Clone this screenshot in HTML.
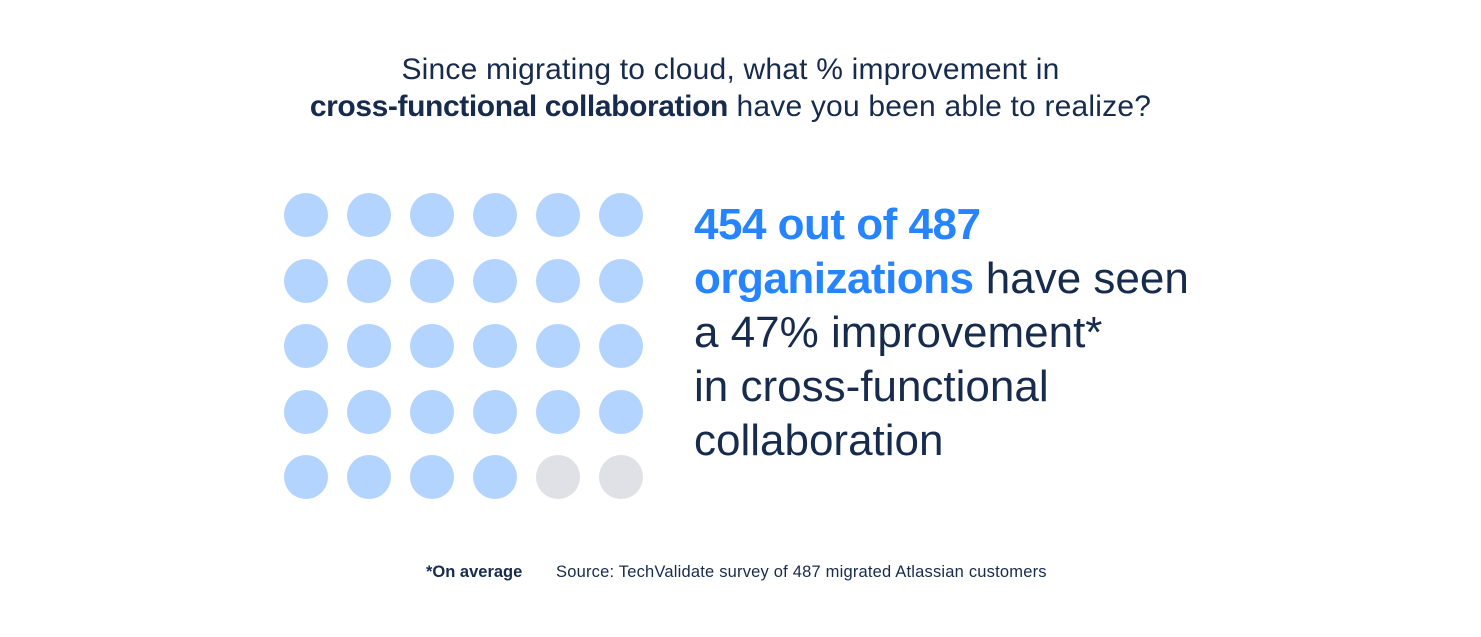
<!DOCTYPE html>
<html><head><meta charset="utf-8"><style>
body{margin:0;width:1481px;height:637px;background:#fff;position:relative;overflow:hidden;font-family:"Liberation Sans",sans-serif;color:#172b4d}
.t{position:absolute;left:0;width:1461px;text-align:center;font-size:30px;line-height:37px;top:51px;letter-spacing:0.2px}
.t b{letter-spacing:-0.4px}
.c{position:absolute;width:44px;height:44px;border-radius:50%;background:#b3d4ff}
.g{background:#dfe1e6}
.big{position:absolute;left:694px;top:198px;font-size:44px;line-height:54px;letter-spacing:0px}
.b{color:#2684ff;font-weight:bold;letter-spacing:-0.5px}
.f{position:absolute;top:563px;font-size:16.5px;letter-spacing:0.2px}
</style></head><body>
<div class="t">Since migrating to cloud, what % improvement in<br><b>cross-functional collaboration</b> have you been able to realize?</div>
<div id="d"></div>
<script>
var h='';for(var r=0;r<5;r++)for(var c=0;c<6;c++){var g=(r==4&&c>=4)?' g':'';h+='<div class="c'+g+'" style="left:'+(284+c*63)+'px;top:'+(193+r*65.5)+'px"></div>';}
document.getElementById('d').innerHTML=h;
</script>
<div class="big"><span class="b">454 out of 487<br>organizations</span> have seen<br>a 47% improvement*<br>in cross-functional<br>collaboration</div>
<div class="f" style="left:426px;font-weight:bold;letter-spacing:0">*On average</div>
<div class="f" style="left:556px">Source: TechValidate survey of 487 migrated Atlassian customers</div>
</body></html>
